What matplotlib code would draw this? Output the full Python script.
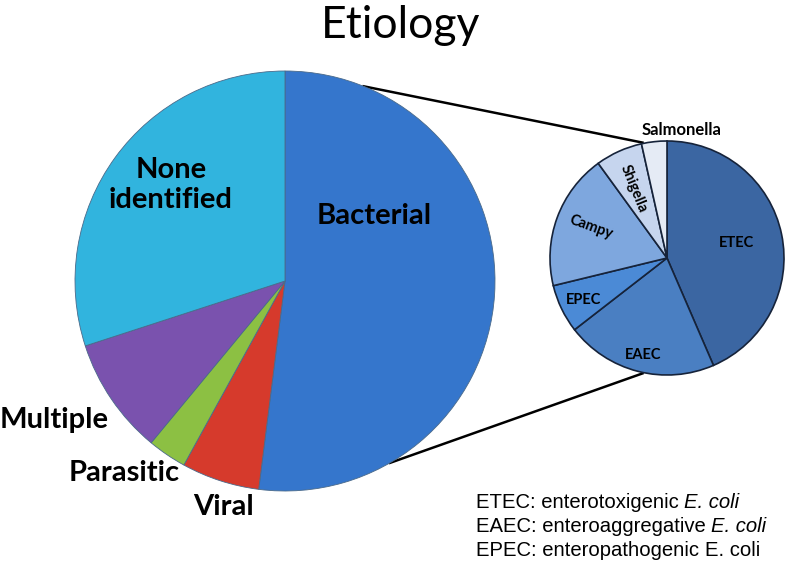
import numpy as np
import matplotlib.pyplot as plt

# main pie: etiology (% of cases)
main_labels = ["Bacterial", "Viral", "Parasitic", "Multiple", "None\nidentified"]
main_values = [52, 6, 3, 9, 30]
main_colors = ["#3576cc", "#d63a2c", "#8cc043", "#7a52ae", "#31b4de"]

# bacterial breakdown
bact_labels = ["ETEC", "EAEC", "EPEC", "Campy", "Shigella", "Salmonella"]
bact_values = [43.5, 21, 6.7, 18.8, 6.5, 3.5]
bact_colors = ["#3b66a2", "#4a7fc2", "#4b8ad6", "#7ea7de", "#c6d5ee", "#e5ebf5"]

legend_lines = [
    ("ETEC: enterotoxigenic ", "E. coli", "italic"),
    ("EAEC: enteroaggregative ", "E. coli", "italic"),
    ("EPEC: enteropathogenic ", "E. coli", "normal"),
]

W, H = 787, 562
fig = plt.figure(figsize=(W / 100, H / 100), dpi=100)
ax = fig.add_axes([0, 0, 1, 1])

main_c = (285, H - 281)
main_r = 210
small_c = (667, H - 258)
small_r = 117

ax.pie(main_values, colors=main_colors, startangle=90, counterclock=False,
       center=main_c, radius=main_r, frame=True,
       wedgeprops=dict(edgecolor="#4a6a8a", linewidth=0.6))
ax.pie(bact_values, colors=bact_colors, startangle=90, counterclock=False,
       center=small_c, radius=small_r, frame=True,
       wedgeprops=dict(edgecolor="#16233a", linewidth=1.2))
ax.set_xlim(0, W)
ax.set_ylim(0, H)
ax.set_aspect("equal")
ax.axis("off")

# connector lines between the two pies
def on_circle(c, r, deg):
    a = np.deg2rad(deg)
    return (c[0] + r * np.cos(a), c[1] + r * np.sin(a))

for a_main, a_small in [(68, 102), (-60, -102)]:
    p1 = on_circle(main_c, main_r, a_main)
    p2 = on_circle(small_c, small_r + 1, a_small)
    ax.plot([p1[0], p2[0]], [p1[1], p2[1]], color="black", lw=1.8, zorder=0)

lab = dict(fontfamily="Lato", fontweight="bold", color="black")
ax.text(401, H - 26, "Etiology", ha="center", va="center",
        fontsize=32, fontfamily="Lato")

ax.text(374, H - 216, "Bacterial", ha="center", va="center", fontsize=21, **lab)
ax.text(171, H - 185, "None\nidentified", ha="center", va="center",
        fontsize=21, linespacing=1.2, **lab)
ax.text(0, H - 420, "Multiple", ha="left", va="center", fontsize=21, **lab)
ax.text(69, H - 473, "Parasitic", ha="left", va="center", fontsize=21, **lab)
ax.text(193, H - 507, "Viral", ha="left", va="center", fontsize=21, **lab)

sm = dict(ha="center", va="center", fontsize=10.5, **lab)
ax.text(737, H - 243, "ETEC", **sm)
ax.text(643, H - 355, "EAEC", **sm)
ax.text(584, H - 300, "EPEC", **sm)
ax.text(591, H - 227, "Campy", rotation=-20, **sm)
ax.text(634, H - 189, "Shigella", rotation=-68, **sm)
ax.text(682, H - 130, "Salmonella", ha="center", va="center", fontsize=12, **lab)

for i, (plain, ital, style) in enumerate(legend_lines):
    y = H - 502 - i * 24.5
    t = ax.text(476, y, plain, ha="left", va="center", fontsize=14.6,
                fontfamily="Liberation Sans")
    fig.canvas.draw()
    bb = t.get_window_extent()
    x2 = ax.transData.inverted().transform((bb.x1, bb.y0))[0]
    ax.text(x2, y, ital, ha="left", va="center", fontsize=14.6,
            fontfamily="Liberation Sans", fontstyle=style)

fig.savefig("out.png", dpi=100)
